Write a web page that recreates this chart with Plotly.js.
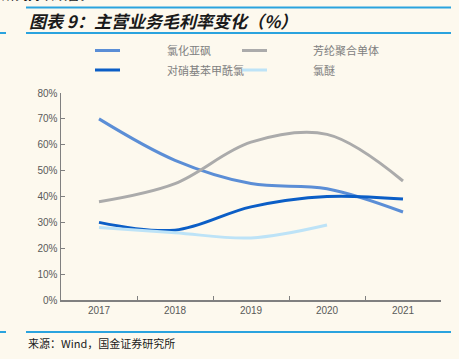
<!DOCTYPE html>
<html>
<head>
<meta charset="utf-8">
<script src="https://cdn.plot.ly/plotly-3.0.1.min.js"></script>
<style>html,body{margin:0;padding:0;background:#FDF9EE;}</style>
</head>
<body>
<div id="chart" style="width:459px;height:359px;"></div>
<script>
var years = ['2017', '2018', '2019', '2020', '2021'];
var names = ['氯化亚砜', '芳纶聚合单体', '对硝基苯甲酰氯', '氯醚'];
var sulfurylValues = [70, 54, 45, 43, 34];
var aramidValues = [38, 45, 61, 64, 46];
var nitroValues = [30, 27, 36, 40, 39];
var etherValues = [28, 26, 24, 29, null];
var yTicks = [0, 10, 20, 30, 40, 50, 60, 70, 80];
var yTickText = ['0%', '10%', '20%', '30%', '40%', '50%', '60%', '70%', '80%'];
var colors = ['#5B8ED6', '#ABABAB', '#0B5EC6', '#BDE3F7'];
var series = [sulfurylValues, aramidValues, nitroValues, etherValues];

var W = 459, H = 359, L = 61, R = 441, T = 93, B = 300;
function px(x) { return (x - L) / (R - L); }
function py(y) { return (B - y) / (B - T); }

var traces = series.map(function (vals, i) {
  return {
    type: 'scatter', mode: 'lines', x: years, y: vals, name: names[i],
    line: { color: colors[i], width: 3, shape: 'spline', smoothing: 1 },
    showlegend: false, connectgaps: false, hoverinfo: 'skip'
  };
});

var blue = '#2AA3DE';
var shapes = [
  { type: 'line', xref: 'paper', yref: 'paper', x0: px(26), x1: px(451), y0: py(7.5), y1: py(7.5), line: { color: blue, width: 2 } },
  { type: 'line', xref: 'paper', yref: 'paper', x0: px(26), x1: px(451), y0: py(33), y1: py(33), line: { color: blue, width: 2 } },
  { type: 'line', xref: 'paper', yref: 'paper', x0: px(0), x1: px(6), y0: py(33), y1: py(33), line: { color: blue, width: 2 } },
  { type: 'line', xref: 'paper', yref: 'paper', x0: px(26), x1: px(451), y0: py(332), y1: py(332), line: { color: blue, width: 2 } },
  { type: 'line', xref: 'paper', yref: 'paper', x0: px(0), x1: px(6), y0: py(332), y1: py(332), line: { color: blue, width: 2 } }
];
var legPos = [[95, 50.5, 165], [242, 50.5, 311], [95, 70, 165], [242, 70, 311]];
var annotations = [];
legPos.forEach(function (p, i) {
  shapes.push({ type: 'line', xref: 'paper', yref: 'paper', x0: px(p[0]), x1: px(p[0] + 25), y0: py(p[1]), y1: py(p[1]), line: { color: colors[i], width: 3 } });
  annotations.push({ xref: 'paper', yref: 'paper', x: px(p[2]), y: py(p[1]), xanchor: 'left', yanchor: 'middle', showarrow: false, text: names[i], font: { family: 'Noto Sans CJK SC', size: 11, color: '#808080' } });
});
annotations.push({ xref: 'paper', yref: 'paper', x: px(27), y: py(20), xanchor: 'left', yanchor: 'middle', showarrow: false, text: '<b><i>图表 9：主营业务毛利率变化（%）</i></b>', font: { family: 'Noto Sans CJK SC', size: 17, color: '#1a1a1a' } });
annotations.push({ xref: 'paper', yref: 'paper', x: px(26), y: py(343), xanchor: 'left', yanchor: 'middle', showarrow: false, text: '来源：Wind，国金证券研究所', font: { family: 'Noto Sans CJK SC', size: 11, color: '#1a1a1a' } });
annotations.push({ xref: 'paper', yref: 'paper', x: px(0), y: py(-7), xanchor: 'left', yanchor: 'middle', showarrow: false, text: '所列持续改善。', font: { family: 'Noto Sans CJK SC', size: 13, color: '#1a1a1a' } });

var layout = {
  width: W, height: H,
  margin: { l: L, r: W - R, t: T, b: H - B, pad: 0 },
  paper_bgcolor: '#FDF9EE', plot_bgcolor: '#FDF9EE',
  showlegend: false,
  xaxis: {
    type: 'category', range: [-0.5, 4.5], tickson: 'boundaries', ticks: 'inside', ticklen: 4, tickcolor: '#808080',
    showline: true, linecolor: '#808080', linewidth: 1.5, showgrid: false, zeroline: false,
    tickfont: { family: 'Liberation Sans', size: 10, color: '#595959' }, fixedrange: true
  },
  yaxis: {
    range: [0, 80], tickmode: 'array', tickvals: yTicks, ticktext: yTickText, ticks: 'inside', ticklen: 4, tickcolor: '#808080',
    showline: true, linecolor: '#808080', linewidth: 1.5, showgrid: false, zeroline: false,
    tickfont: { family: 'Liberation Sans', size: 10, color: '#595959' }, fixedrange: true
  },
  shapes: shapes,
  annotations: annotations
};
Plotly.newPlot('chart', traces, layout, { displayModeBar: false, staticPlot: true });
</script>
</body>
</html>
